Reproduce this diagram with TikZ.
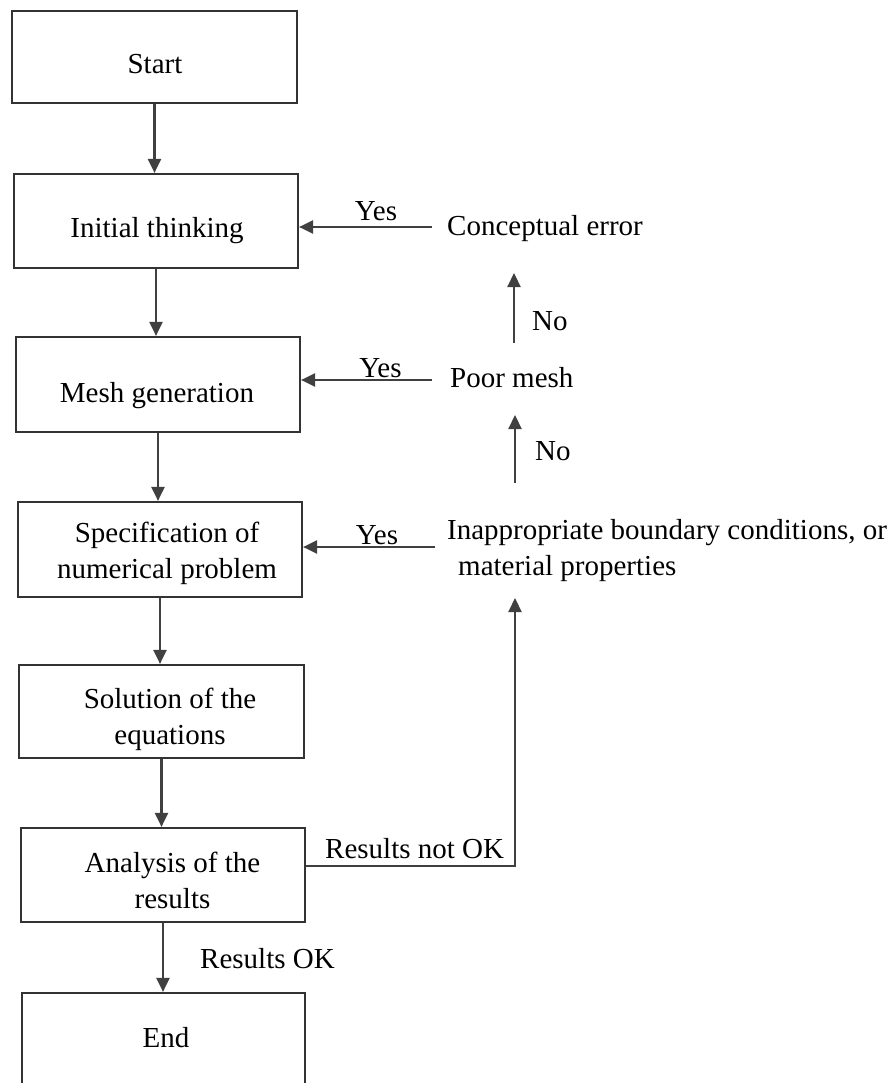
\documentclass[tikz,border=0pt]{standalone}
\usepackage{fontspec}
\setmainfont{Liberation Serif}
\usetikzlibrary{arrows.meta}
\begin{document}
\begin{tikzpicture}[x=1pt,y=-1pt,
  box/.style={draw=black!80, line width=2.2pt, rectangle, inner sep=0pt},
  txt/.style={inner sep=0pt, anchor=base, align=center, font=\fontsize{29}{35.5}\selectfont},
  ltxt/.style={inner sep=0pt, anchor=base west, align=left, font=\fontsize{29}{35.5}\selectfont},
  arr/.style={draw=black!75, line width=2.2pt, -{Triangle[length=14pt,width=13pt]}}]
\path[use as bounding box, clip] (0,0) rectangle (895,1083);
\fill[white] (0,0) rectangle (895,1083);
% boxes
\node[box, minimum width=285pt, minimum height=92pt] (start) at (154.5,57) {};
\node[box, minimum width=284pt, minimum height=94pt] (init) at (156,221) {};
\node[box, minimum width=284pt, minimum height=95pt] (mesh) at (158,384.5) {};
\node[box, minimum width=284pt, minimum height=95pt] (spec) at (160,549.5) {};
\node[box, minimum width=285pt, minimum height=93pt] (sol) at (161.5,711.5) {};
\node[box, minimum width=284pt, minimum height=94pt] (anal) at (163,875) {};
\node[box, minimum width=283pt, minimum height=107pt] (end) at (163.5,1046.5) {};
% box texts (base = baseline of the last line)
\node[txt] (startt) at (155,74) {Start};
\node[txt] (initt) at (157,237) {Initial thinking};
\node[txt] (mesht) at (157,402) {Mesh generation};
\node[txt] (spect) at (167,578) {Specification of\\numerical problem};
\node[txt] (solt) at (170,744) {Solution of the\\equations};
\node[txt] (analt) at (172.5,908) {Analysis of the\\results};
\node[txt] (endt) at (166,1047) {End};
% main flow
\draw[arr] (start.south) -- (start.south |- init.north);
\draw[arr] (init.south) -- (init.south |- mesh.north);
\draw[arr] (mesh.south) -- (mesh.south |- spec.north);
\draw[arr] (spec.south) -- (spec.south |- sol.north);
\draw[arr] (sol.south) -- (sol.south |- anal.north);
\draw[arr] (anal.south) -- (anal.south |- end.north);
\node[ltxt] (rok) at (200,968) {Results OK};
% right side texts
\node[ltxt] (ce) at (447,236) {Conceptual error};
\node[ltxt] (pm) at (450,387) {Poor mesh};
\node[ltxt] (ib) at (447,575) {Inappropriate boundary conditions, or\\\hspace*{11pt}material properties};
% feedback arrows
\coordinate (c1) at (432,227);
\draw[arr] (c1) -- (c1 -| init.east);
\node[txt] (yes1) at (376,221) {Yes};
\coordinate (n1a) at (514,343);
\coordinate (n1b) at (514,273);
\draw[arr] (n1a) -- (n1b);
\node[ltxt] (no1) at (532,330) {No};
\coordinate (c2) at (432,380);
\draw[arr] (c2) -- (c2 -| mesh.east);
\node[txt] (yes2) at (380.5,377) {Yes};
\coordinate (n2a) at (515,483);
\coordinate (n2b) at (515,415);
\draw[arr] (n2a) -- (n2b);
\node[ltxt] (no2) at (535,460) {No};
\coordinate (c3) at (435,547);
\draw[arr] (c3) -- (c3 -| spec.east);
\node[txt] (yes3) at (377,544) {Yes};
\coordinate (r2) at (515,598);
\draw[arr] ([yshift=9pt]anal.east) -| (r2);
\node[ltxt] (rnok) at (325,858) {Results not OK};
\end{tikzpicture}
\end{document}
